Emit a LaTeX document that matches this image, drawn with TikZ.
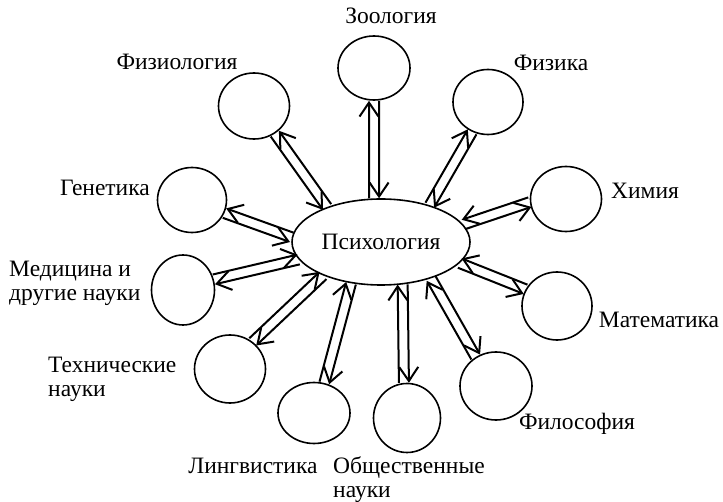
\documentclass[tikz,border=0pt]{standalone}
\usepackage{fontspec}
\setmainfont{Liberation Serif}
\usetikzlibrary{shapes.geometric,arrows.meta,calc}
\newcommand\duo[5]{%
  \coordinate (p) at (psy.#3);
  \coordinate (q) at (#1.#2);
  \draw[arr] ($(p)!5pt!#4:(q)$) -- ($(q)!5pt!#5:(p)$);
  \draw[arr] ($(q)!5pt!#4:(p)$) -- ($(p)!5pt!#5:(q)$);
}
\begin{document}
\begin{tikzpicture}[x=1pt,y=-1pt,
  bubble/.style={ellipse,draw,line width=1.6pt,inner sep=0pt},
  lbl/.style={inner sep=0pt,font=\fontsize{23.5}{24}\selectfont},
  arr/.style={line width=2pt,-{Straight Barb[length=14pt,width=19pt]}}
]
\fill[white] (0,0) rectangle (723,502);
\useasboundingbox (0,0) rectangle (723,502);
\node[bubble,minimum width=178pt,minimum height=86pt,font=\fontsize{23.5}{24}\selectfont] (psy) at (381,242) {Психология};
\node[bubble,minimum width=71pt,minimum height=66pt] (fiziol) at (254,106) {};
\node[bubble,minimum width=72pt,minimum height=64pt] (zoo) at (374,68) {};
\node[bubble,minimum width=70pt,minimum height=65pt] (fiz) at (488,102) {};
\node[bubble,minimum width=71pt,minimum height=65pt] (him) at (566,199) {};
\node[bubble,minimum width=70pt,minimum height=68pt] (mat) at (557,306) {};
\node[bubble,minimum width=72pt,minimum height=68pt] (fil) at (496,386) {};
\node[bubble,minimum width=67pt,minimum height=69pt] (obs) at (407,418) {};
\node[bubble,minimum width=72pt,minimum height=61pt] (lin) at (314,413) {};
\node[bubble,minimum width=71pt,minimum height=68pt] (teh) at (230,369) {};
\node[bubble,minimum width=63pt,minimum height=70pt] (med) at (183,290) {};
\node[bubble,minimum width=69pt,minimum height=65pt] (gen) at (192,200) {};

\duo{fiziol}{-53}{147}{-90}{90}
\duo{zoo}{-90}{99}{90}{-90}
\duo{fiz}{-118}{37.6}{90}{-90}
\duo{him}{185}{12.8}{-90}{90}
\duo{mat}{152}{-15.7}{-90}{90}
\duo{fil}{125}{-36.6}{90}{-90}
\duo{obs}{95}{-63.3}{90}{-90}
\duo{lin}{71.6}{-126}{90}{-90}
\duo{teh}{50}{210}{90}{-90}
\duo{med}{19}{192.7}{90}{-90}
\duo{gen}{-22}{177}{-90}{90}

\node[lbl,anchor=base] (tzoo) at (391,24) {Зоология};
\node[lbl,anchor=base] (tfiziol) at (177,70) {Физиология};
\node[lbl,anchor=base] (tfiz) at (551,71) {Физика};
\node[lbl,anchor=base] (thim) at (645,199) {Химия};
\node[lbl,anchor=base] (tmat) at (659,328) {Математика};
\node[lbl,anchor=base] (tfil) at (577,430) {Философия};
\node[lbl,anchor=base west,align=left] (tobs) at (333,497) {Общественные\\науки};
\node[lbl,anchor=base] (tlin) at (253,473) {Лингвистика};
\node[lbl,anchor=base west,align=left] (tteh) at (48,397) {Технические\\науки};
\node[lbl,anchor=base west,align=left] (tmed) at (9,301) {Медицина и\\другие науки};
\node[lbl,anchor=base] (tgen) at (105,196) {Генетика};
\end{tikzpicture}
\end{document}
